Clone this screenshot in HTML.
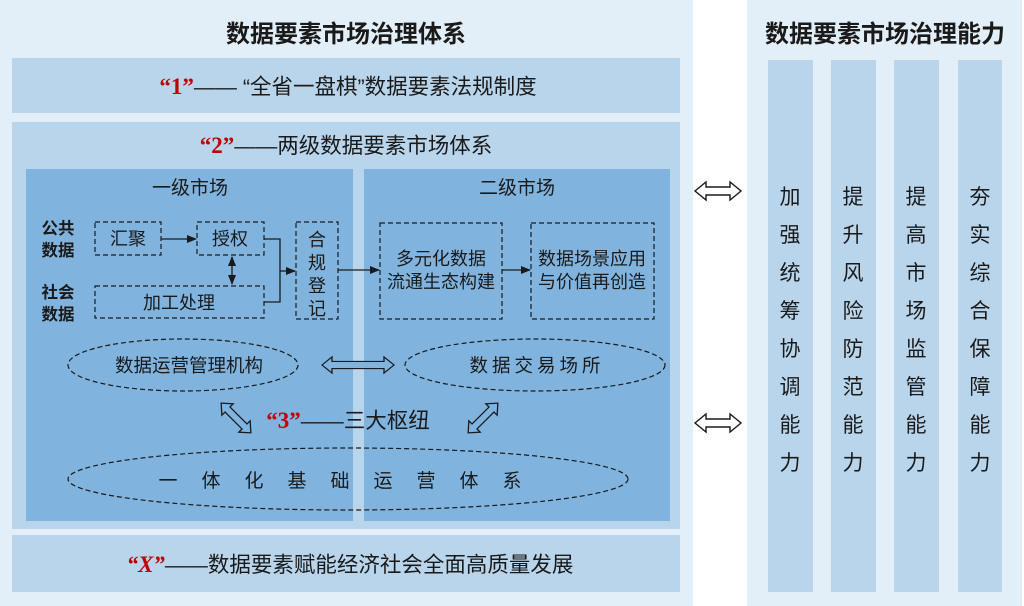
<!DOCTYPE html>
<html><head><meta charset="utf-8">
<style>
html,body{margin:0;padding:0;background:#fff;}
svg{display:block;}
text{font-family:"Liberation Sans","Noto Sans CJK SC",sans-serif;fill:#1a1a1a;}
.red{font-family:"Liberation Serif","Noto Serif CJK SC",serif;fill:#c00000;font-weight:bold;}
.b{font-weight:bold;}
.d{fill:none;stroke:#1a1a1a;stroke-width:1.2;stroke-dasharray:5 3;}
.l{fill:none;stroke:#1a1a1a;stroke-width:1.3;}
.ha{fill:#fff;stroke:#1a1a1a;stroke-width:1.4;}
.hb{fill:#80b4de;stroke:#1a1a1a;stroke-width:1.3;}
</style></head>
<body>
<svg width="1024" height="606" viewBox="0 0 1024 606" xmlns="http://www.w3.org/2000/svg">
<defs>
<marker id="ar" markerWidth="10" markerHeight="10" refX="9" refY="5" orient="auto" markerUnits="userSpaceOnUse">
<path d="M0,1 L10,5 L0,9 Z" fill="#1a1a1a"/></marker>
<marker id="ar0" markerWidth="10" markerHeight="10" refX="1" refY="5" orient="auto" markerUnits="userSpaceOnUse">
<path d="M10,1 L0,5 L10,9 Z" fill="#1a1a1a"/></marker>
<path id="dbl" d="M-23,0 L-12,-9 L-12,-4 L12,-4 L12,-9 L23,0 L12,9 L12,4 L-12,4 L-12,9 Z"/>
<path id="dbl2" d="M-36,0 L-26,-9 L-26,-4 L26,-4 L26,-9 L36,0 L26,9 L26,4 L-26,4 L-26,9 Z"/>
<path id="dia" d="M-21,0 L-12,-8 L-12,-3.5 L12,-3.5 L12,-8 L21,0 L12,8 L12,3.5 L-12,3.5 L-12,8 Z"/>
</defs>
<rect x="0" y="0" width="693" height="606" fill="#e2eef8"/>
<rect x="747" y="0" width="275" height="606" fill="#e2eef8"/>
<text x="346" y="42" font-size="24" text-anchor="middle" class="b">数据要素市场治理体系</text>
<text x="885" y="42" font-size="24" text-anchor="middle" class="b">数据要素市场治理能力</text>
<rect x="12" y="58" width="668" height="55" fill="#b9d5ec"/>
<text x="348" y="94" font-size="21.5" text-anchor="middle"><tspan class="red" font-size="23">“1”</tspan>—— “全省一盘棋”数据要素法规制度</text>
<rect x="12" y="122" width="668" height="407" fill="#b9d5ec"/>
<text x="346" y="153" font-size="21.5" text-anchor="middle"><tspan class="red" font-size="23">“2”</tspan>——两级数据要素市场体系</text>
<rect x="26" y="169" width="327" height="352" fill="#80b4de"/>
<rect x="364" y="169" width="306" height="352" fill="#80b4de"/>
<text x="190" y="194" font-size="19" text-anchor="middle">一级市场</text>
<text x="517" y="194" font-size="19" text-anchor="middle">二级市场</text>
<text x="58" y="234" font-size="16.5" text-anchor="middle" class="b">公共</text>
<text x="58" y="256" font-size="16.5" text-anchor="middle" class="b">数据</text>
<text x="58" y="298" font-size="16.5" text-anchor="middle" class="b">社会</text>
<text x="58" y="320" font-size="16.5" text-anchor="middle" class="b">数据</text>
<rect x="95" y="222" width="66" height="33" class="d"/>
<text x="128" y="245" font-size="18" text-anchor="middle">汇聚</text>
<rect x="197" y="222" width="67" height="33" class="d"/>
<text x="230" y="245" font-size="18" text-anchor="middle">授权</text>
<line x1="161" y1="239" x2="196" y2="239" class="l" marker-end="url(#ar)"/>
<rect x="95" y="286" width="169" height="32" class="d"/>
<text x="179" y="309" font-size="18" text-anchor="middle">加工处理</text>
<line x1="232" y1="257" x2="232" y2="284" class="l" marker-end="url(#ar)" marker-start="url(#ar0)"/>
<path d="M264,239 L280,239 L280,302 L264,302" class="l"/>
<line x1="280" y1="271" x2="295" y2="271" class="l" marker-end="url(#ar)"/>
<rect x="296" y="222" width="42" height="97" class="d"/>
<text x="317" y="246" font-size="18" text-anchor="middle">合</text>
<text x="317" y="269" font-size="18" text-anchor="middle">规</text>
<text x="317" y="292" font-size="18" text-anchor="middle">登</text>
<text x="317" y="315" font-size="18" text-anchor="middle">记</text>
<line x1="338" y1="270" x2="379" y2="270" class="l" marker-end="url(#ar)"/>
<rect x="380" y="223" width="122" height="96" class="d"/>
<text x="441" y="265" font-size="18" text-anchor="middle">多元化数据</text>
<text x="441" y="288" font-size="18" text-anchor="middle">流通生态构建</text>
<line x1="502" y1="270" x2="530" y2="270" class="l" marker-end="url(#ar)"/>
<rect x="531" y="223" width="123" height="96" class="d"/>
<text x="592" y="265" font-size="18" text-anchor="middle">数据场景应用</text>
<text x="592" y="288" font-size="18" text-anchor="middle">与价值再创造</text>
<ellipse cx="183" cy="365" rx="115" ry="26" class="d"/>
<text x="189" y="372" font-size="18.5" text-anchor="middle">数据运营管理机构</text>
<ellipse cx="535" cy="365" rx="130" ry="26" class="d"/>
<text x="537" y="372" font-size="18.5" text-anchor="middle" letter-spacing="4">数据交易场所</text>
<use href="#dbl2" class="hb" transform="translate(358,365) scale(1,0.9)"/>
<use href="#dia" class="hb" transform="translate(236,418) rotate(45)"/>
<use href="#dia" class="hb" transform="translate(483,418) rotate(-45)"/>
<text x="348" y="428" font-size="21.5" text-anchor="middle"><tspan class="red" font-size="23">“3”</tspan>——三大枢纽</text>
<ellipse cx="348" cy="479" rx="280" ry="31" class="d"/>
<text x="352" y="487" font-size="19" text-anchor="middle" letter-spacing="24">一体化基础运营体系</text>
<rect x="12" y="535" width="668" height="57" fill="#b9d5ec"/>
<text x="350" y="572" font-size="21.5" text-anchor="middle"><tspan class="red" font-size="23" font-style="italic">“X”</tspan>——数据要素赋能经济社会全面高质量发展</text>
<use href="#dbl" class="ha" transform="translate(718,191)"/>
<use href="#dbl" class="ha" transform="translate(718,423)"/>
<rect x="768" y="60" width="45" height="532" fill="#b9d5ec"/>
<rect x="831" y="60" width="45" height="532" fill="#b9d5ec"/>
<rect x="894" y="60" width="45" height="532" fill="#b9d5ec"/>
<rect x="958" y="60" width="44" height="532" fill="#b9d5ec"/>
<g font-size="21" text-anchor="middle">
<text x="790" y="204">加</text><text x="790" y="242">强</text><text x="790" y="280">统</text><text x="790" y="318">筹</text><text x="790" y="356">协</text><text x="790" y="394">调</text><text x="790" y="432">能</text><text x="790" y="470">力</text>
<text x="853" y="204">提</text><text x="853" y="242">升</text><text x="853" y="280">风</text><text x="853" y="318">险</text><text x="853" y="356">防</text><text x="853" y="394">范</text><text x="853" y="432">能</text><text x="853" y="470">力</text>
<text x="916" y="204">提</text><text x="916" y="242">高</text><text x="916" y="280">市</text><text x="916" y="318">场</text><text x="916" y="356">监</text><text x="916" y="394">管</text><text x="916" y="432">能</text><text x="916" y="470">力</text>
<text x="980" y="204">夯</text><text x="980" y="242">实</text><text x="980" y="280">综</text><text x="980" y="318">合</text><text x="980" y="356">保</text><text x="980" y="394">障</text><text x="980" y="432">能</text><text x="980" y="470">力</text>
</g>
</svg>
</body></html>
